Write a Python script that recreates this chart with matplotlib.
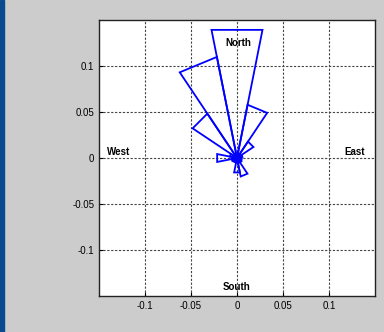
import numpy as np
import matplotlib
matplotlib.use('Agg')
import matplotlib.pyplot as plt
from matplotlib.patches import Rectangle

# 16 compass sectors, clockwise from north
directions = ['N', 'NNE', 'NE', 'ENE', 'E', 'ESE', 'SE', 'SSE',
              'S', 'SSW', 'SW', 'WSW', 'W', 'WNW', 'NW', 'NNW']
radii = [0.142, 0.059, 0.0215, 0.006, 0.005, 0.005, 0.006, 0.0205,
         0.016, 0.005, 0.005, 0.006, 0.022, 0.008, 0.058, 0.112]

ticks = [-0.1, -0.05, 0, 0.05, 0.1]
tick_labels = ['-0.1', '-0.05', '0', '0.05', '0.1']

compass_names = ['North', 'South', 'West', 'East']
compass_x = [0.001, 0.0, -0.129, 0.128]
compass_y = [0.1245, -0.140, 0.0066, 0.0069]

plt.rcParams['font.family'] = ['Liberation Sans', 'DejaVu Sans']

fig = plt.figure(figsize=(3.84, 3.32), dpi=100, facecolor='#cccccc')
# blue window strip on the left edge
fig.patches.append(Rectangle((0, 0), 4 / 384, 1, transform=fig.transFigure,
                             color='#0b4a8e', zorder=-1))
ax = fig.add_axes([99 / 384, 36 / 332, 276 / 384, 276 / 332])
ax.set_facecolor('white')

half = np.deg2rad(11.25)
for i, r in enumerate(radii):
    c = np.deg2rad(90 - 22.5 * i)  # compass bearing -> math angle
    a1, a2 = c - half, c + half
    xs = [0, r * np.cos(a1), r * np.cos(a2), 0]
    ys = [0, r * np.sin(a1), r * np.sin(a2), 0]
    ax.plot(xs, ys, color='#0000ff', lw=1.3, solid_joinstyle='miter', zorder=3)

# centre blob
ax.plot([0], [0], marker='o', ms=4.5, color='#0000ff', zorder=4)

for name, x, y in zip(compass_names, compass_x, compass_y):
    ax.text(x, y, name, ha='center', va='center', fontsize=7,
            fontweight='bold', zorder=5)

ax.set_xlim(-0.15, 0.15)
ax.set_ylim(-0.15, 0.15)
ax.set_xticks(ticks)
ax.set_xticklabels(tick_labels)
ax.set_yticks(ticks)
ax.set_yticklabels(tick_labels)
ax.tick_params(direction='in', length=3, labelsize=7, width=0.8)
ax.grid(True, color='#444444', linestyle=(0, (2, 1.5)), lw=0.8)
for s in ax.spines.values():
    s.set_linewidth(1)
    s.set_color('#222222')

fig.savefig('out.png', dpi=100, facecolor=fig.get_facecolor())
